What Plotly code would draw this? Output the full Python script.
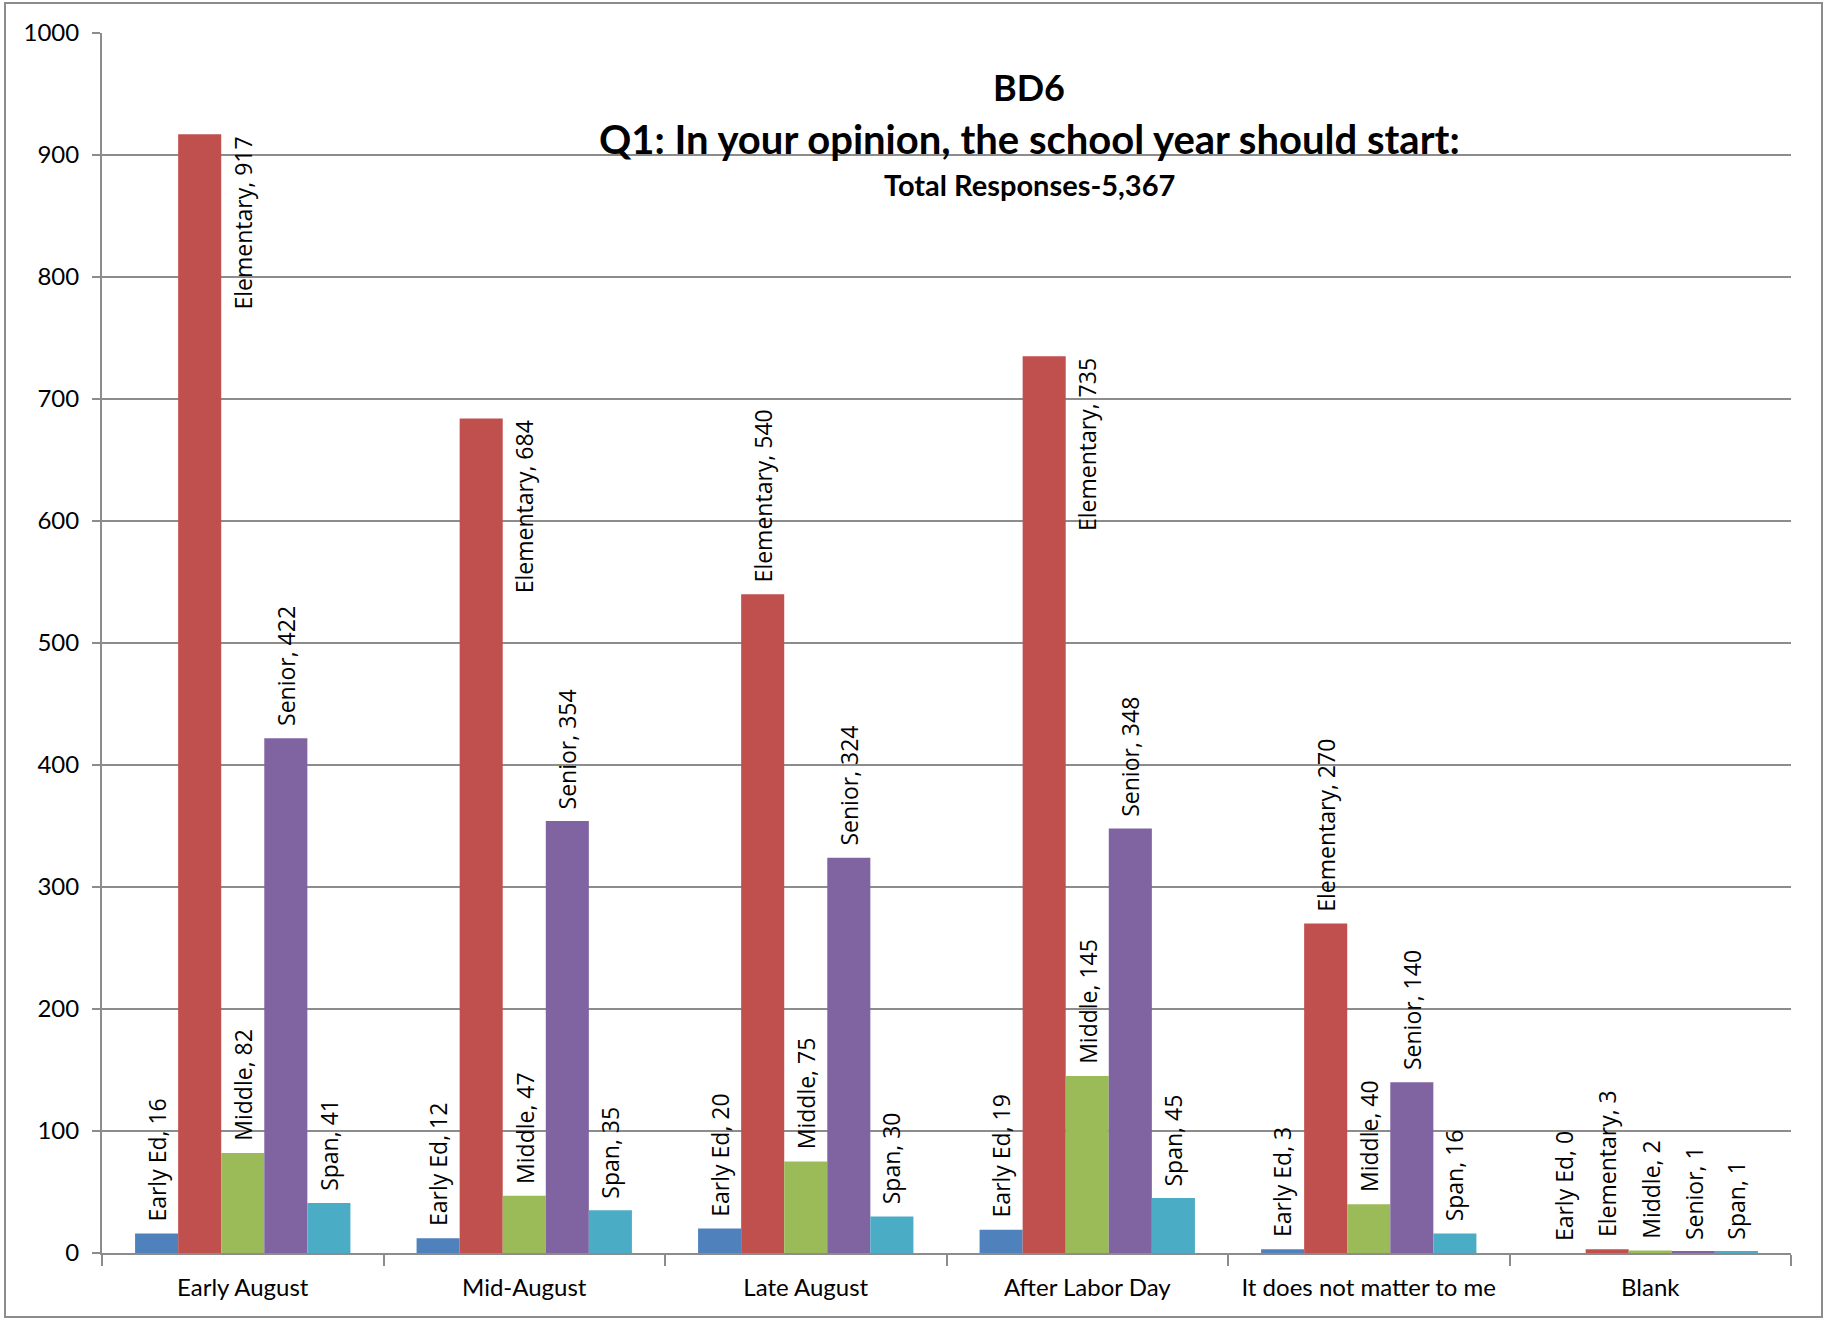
import plotly.graph_objects as go

categories = ["Early August", "Mid-August", "Late August", "After Labor Day",
              "It does not matter to me", "Blank"]
series_names = ["Early Ed", "Elementary", "Middle", "Senior", "Span"]
early_ed = [16, 12, 20, 19, 3, 0]
elementary = [917, 684, 540, 735, 270, 3]
middle = [82, 47, 75, 145, 40, 2]
senior = [422, 354, 324, 348, 140, 1]
span = [41, 35, 30, 45, 16, 1]
y_ticks = [0, 100, 200, 300, 400, 500, 600, 700, 800, 900, 1000]

title_1 = "BD6"
title_2 = "Q1: In your opinion, the school year should start:"
title_3 = "Total Responses-5,367"

colors = ["#4F81BD", "#C0504D", "#9BBB59", "#8064A2", "#4BACC6"]
series_values = [early_ed, elementary, middle, senior, span]
# labels that Excel moved beside the bar (right of it, top aligned)
shifted = {("Elementary", 0), ("Elementary", 1), ("Elementary", 3)}

W, H = 1826, 1320
L, R, T, B = 102, 1791, 33, 1253
bargap = 0.235
n = len(series_names)
bw = (1 - bargap) / n
LABEL_FONT = dict(family="Open Sans", size=23, color="black")

fig = go.Figure()
for name, vals, col in zip(series_names, series_values, colors):
    fig.add_trace(go.Bar(x=categories, y=vals, name=name, marker_color=col,
                         marker_line_width=0))

ann = []
for si, (name, vals) in enumerate(zip(series_names, series_values)):
    for ci, v in enumerate(vals):
        off = (si - (n - 1) / 2) * bw
        if (name, ci) in shifted:
            ann.append(dict(x=ci + off + bw, y=v, xref="x", yref="y",
                            text=f"{name}, {v}", textangle=-90, showarrow=False,
                            xanchor="center", yanchor="top", yshift=0,
                            font=LABEL_FONT))
        else:
            ann.append(dict(x=ci + off, y=v, xref="x", yref="y",
                            text=f"{name}, {v}", textangle=-90, showarrow=False,
                            xanchor="center", yanchor="bottom", yshift=10,
                            font=LABEL_FONT))

def px_x(p):
    return (p - L) / (R - L)

def px_y(p):
    return (B - p) / (B - T)

tx = px_x(1029)
ann.append(dict(x=tx, y=px_y(87), xref="paper", yref="paper", text=f"<b>{title_1}</b>",
                showarrow=False, xanchor="center", yanchor="middle",
                font=dict(family="Lato", size=36, color="black")))
ann.append(dict(x=tx, y=px_y(139), xref="paper", yref="paper", text=f"<b>{title_2}</b>",
                showarrow=False, xanchor="center", yanchor="middle",
                font=dict(family="Lato", size=40, color="black")))
ann.append(dict(x=tx, y=px_y(184), xref="paper", yref="paper", text=f"<b>{title_3}</b>",
                showarrow=False, xanchor="center", yanchor="middle",
                font=dict(family="Lato", size=29, color="black")))

fig.update_layout(
    width=W, height=H,
    margin=dict(l=L, r=W - R, t=T, b=H - B, pad=0),
    paper_bgcolor="white", plot_bgcolor="white",
    barmode="group", bargap=bargap, bargroupgap=0,
    showlegend=False,
    annotations=ann,
    shapes=[dict(type="rect", xref="paper", yref="paper",
                 x0=px_x(5), x1=px_x(1822), y0=px_y(1317), y1=px_y(3),
                 line=dict(color="#8c8c8c", width=2), fillcolor="rgba(0,0,0,0)",
                 layer="below")],
    xaxis=dict(type="category", tickson="boundaries", ticks="outside", ticklen=11,
               tickcolor="#8c8c8c", tickwidth=2, showgrid=False,
               showline=True, linecolor="#8c8c8c", linewidth=2,
               tickfont=dict(family="Lato", size=24, color="black"),
               ticklabelstandoff=12),
    yaxis=dict(range=[0, 1000], tickvals=y_ticks, ticks="outside", ticklen=8,
               tickcolor="#8c8c8c", tickwidth=2, showgrid=True, gridcolor="#8c8c8c",
               gridwidth=1.5, showline=True, linecolor="#8c8c8c", linewidth=2,
               zeroline=False,
               tickfont=dict(family="Lato", size=24, color="black"),
               ticklabelstandoff=8),
)

fig.write_html("out.html", config={"displayModeBar": False},
               post_script="document.body.style.margin='0';")
